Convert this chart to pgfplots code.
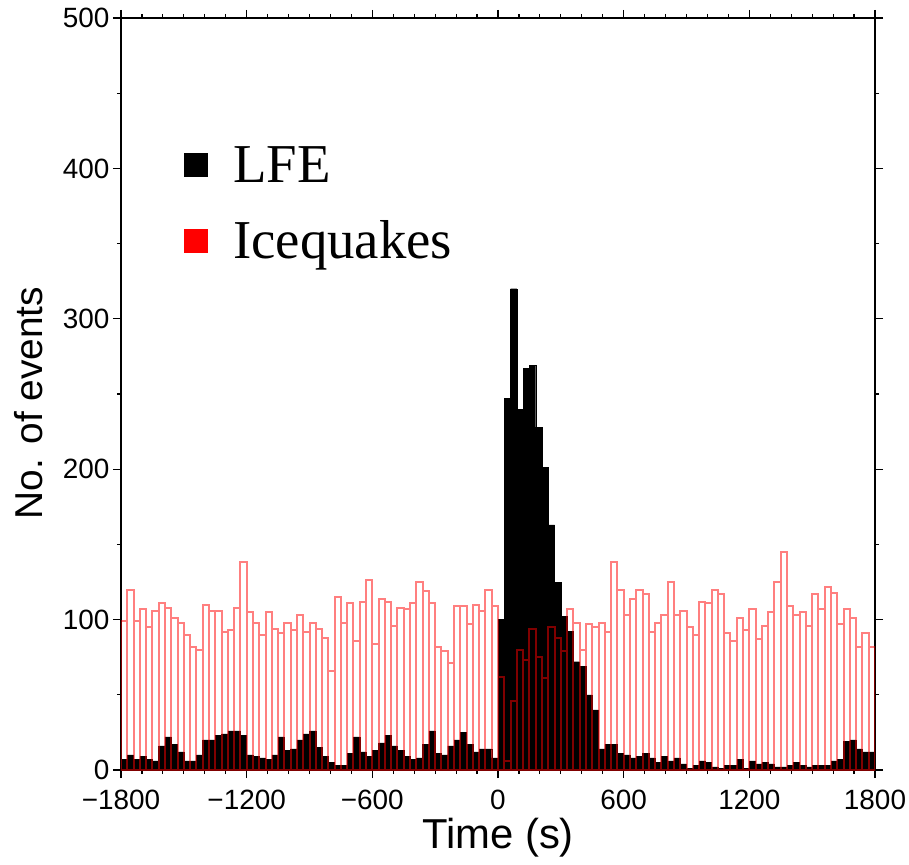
\documentclass[border=0pt]{standalone}
\usepackage{fontspec}
\setmainfont{Liberation Sans}
\newfontfamily\serifL{Liberation Serif}
\usepackage{pgfplots}
\usepackage{pgfplotstable}
\pgfplotsset{compat=1.18}

\pgfplotstableread{
x y
-1800 7
-1770 10
-1740 7
-1710 9
-1680 7
-1650 6
-1620 16
-1590 22
-1560 17
-1530 12
-1500 6
-1470 6
-1440 10
-1410 20
-1380 20
-1350 23
-1320 24
-1290 26
-1260 26
-1230 23
-1200 10
-1170 9
-1140 8
-1110 7
-1080 10
-1050 22
-1020 13
-990 14
-960 20
-930 24
-900 26
-870 15
-840 9
-810 5
-780 3
-750 3
-720 11
-690 22
-660 12
-630 9
-600 13
-570 18
-540 23
-510 16
-480 13
-450 9
-420 7
-390 8
-360 17
-330 26
-300 11
-270 10
-240 16
-210 20
-180 25
-150 17
-120 12
-90 14
-60 14
-30 8
0 100
30 247
60 320
90 240
120 267
150 269
180 228
210 201
240 163
270 125
300 102
330 92
360 72
390 69
420 50
450 40
480 14
510 17
540 17
570 11
600 10
630 8
660 9
690 11
720 8
750 5
780 9
810 6
840 8
870 4
900 1
930 3
960 6
990 5
1020 2
1050 1
1080 3
1110 3
1140 7
1170 1
1200 6
1230 4
1260 5
1290 4
1320 2
1350 2
1380 3
1410 5
1440 3
1470 2
1500 3
1530 3
1560 3
1590 6
1620 7
1650 19
1680 20
1710 14
1740 12
1770 12
1800 12
}\lfe

\pgfplotstableread{
x y
-1800 99
-1770 120
-1740 99
-1710 107
-1680 95
-1650 106
-1620 111
-1590 108
-1560 101
-1530 98
-1500 90
-1470 82
-1440 80
-1410 110
-1380 106
-1350 106
-1320 92
-1290 93
-1260 108
-1230 138
-1200 105
-1170 98
-1140 90
-1110 105
-1080 94
-1050 91
-1020 98
-990 93
-960 103
-930 92
-900 98
-870 94
-840 88
-810 66
-780 115
-750 98
-720 111
-690 86
-660 112
-630 126
-600 84
-570 114
-540 112
-510 96
-480 108
-450 107
-420 111
-390 125
-360 119
-330 111
-300 82
-270 79
-240 71
-210 109
-180 109
-150 97
-120 110
-90 106
-60 120
-30 109
0 62
30 6
60 46
90 80
120 73
150 94
180 75
210 61
240 95
270 88
300 79
330 107
360 98
390 80
420 97
450 95
480 98
510 92
540 138
570 120
600 103
630 114
660 120
690 117
720 92
750 98
780 103
810 125
840 103
870 106
900 95
930 90
960 112
990 111
1020 120
1050 117
1080 91
1110 86
1140 101
1170 93
1200 107
1230 87
1260 96
1290 105
1320 125
1350 145
1380 109
1410 103
1440 105
1470 96
1500 117
1530 107
1560 122
1590 118
1620 97
1650 107
1680 101
1710 82
1740 91
1770 82
1800 82
}\ice

\begin{document}
\begin{tikzpicture}
\path[use as bounding box] (-121bp,-95bp) rectangle (788bp,770bp);
\begin{axis}[
  at={(0,0)}, anchor=south west,
  scale only axis,
  width=754bp, height=752bp,
  xmin=-1800, xmax=1800, ymin=0, ymax=500,
  axis line style={line width=2.2bp, black},
  tick align=outside,
  xtick pos=both, ytick pos=both,
  major tick length=8bp, minor tick length=4bp,
  every tick/.style={black, line width=1.2bp},
  xtick={-1800,-1200,-600,0,600,1200,1800},
  xticklabels={−1800,−1200,−600,0,600,1200,1800},
  minor x tick num=5,
  ytick={0,100,200,300,400,500},
  minor y tick num=1,
  /pgf/number format/assume math mode=true,
  tick label style={font=\fontsize{28}{30}\selectfont},
  xticklabel style={yshift=-8bp},
  xlabel={Time (s)},
  ylabel={No. of events},
  xlabel style={font=\fontsize{42}{46}\selectfont, at={(axis description cs:0.5,-0.09)}, anchor=center},
  ylabel style={font=\fontsize{39}{44}\selectfont, at={(axis description cs:-0.123,0.488)}, anchor=center},
  legend style={draw=none, fill=none, at={(0.079,0.835)}, anchor=north west,
    font=\serifL\fontsize{55}{62}\selectfont, row sep=33bp,
    /tikz/every odd column/.append style={column sep=24bp}},
  legend cell align=left,
]
\addplot[ybar interval, fill=black, draw=black, line width=0.4bp, forget plot] table[x=x,y=y] {\lfe};
\addplot[ybar interval, fill=none, draw=red, draw opacity=0.5, line width=2bp, forget plot] table[x=x,y=y] {\ice};
\addlegendimage{legend image code/.code={\fill[black] (0bp,-11.5bp) rectangle (23bp,11.5bp);}}
\addlegendentry{LFE}
\addlegendimage{legend image code/.code={\fill[red] (0bp,-11.5bp) rectangle (23bp,11.5bp);}}
\addlegendentry{Icequakes}
\end{axis}
\end{tikzpicture}
\end{document}
